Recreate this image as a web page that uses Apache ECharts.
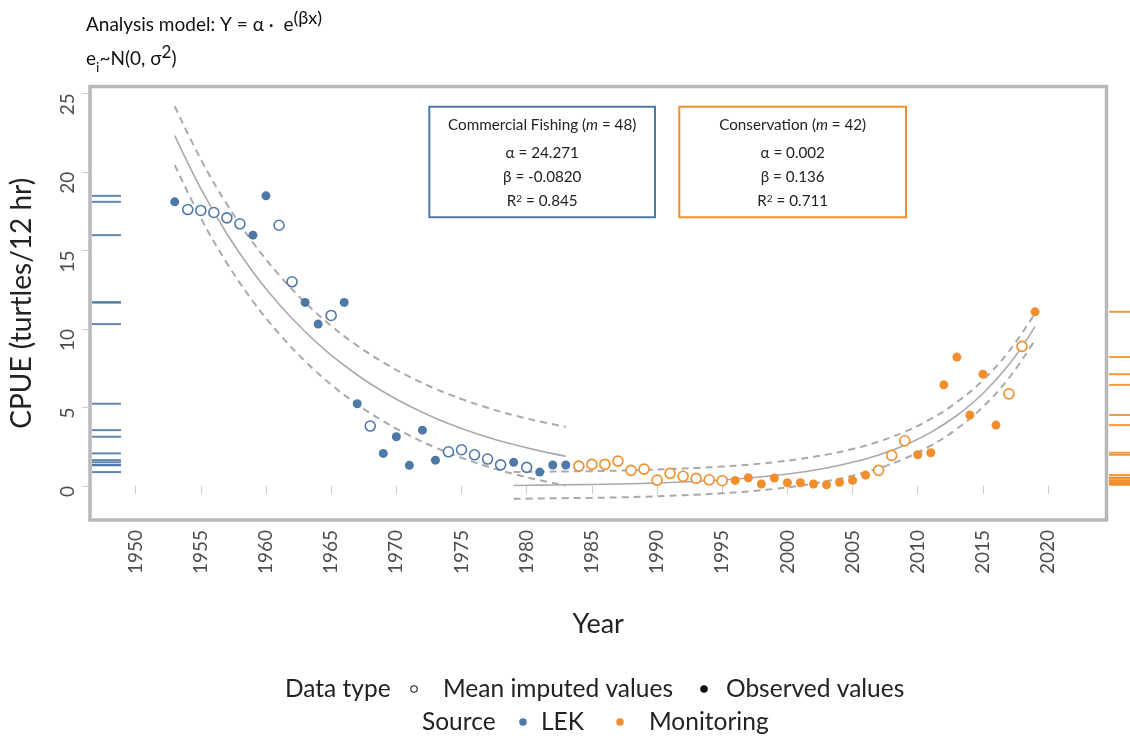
<!DOCTYPE html>
<html>
<head>
<meta charset="utf-8">
<script src="https://cdn.jsdelivr.net/npm/echarts@6/dist/echarts.min.js"></script>
<style>
  html, body { margin: 0; padding: 0; background: #fff; }
  #chart { width: 1130px; height: 736px; }
</style>
</head>
<body>
<div id="chart"></div>
<script>
// LEK (commercial fishing era)
var lekObsYears = [1953, 1959, 1960, 1963, 1964, 1966, 1967, 1969, 1970, 1971, 1972, 1973, 1979, 1981, 1982, 1983]
var lekObsCpue  = [18.09, 15.97, 18.47, 11.69, 10.31, 11.69, 5.24, 2.08, 3.14, 1.32, 3.56, 1.65, 1.51, 0.89, 1.34, 1.34]
var lekImpYears = [1954, 1955, 1956, 1957, 1958, 1961, 1962, 1965, 1968, 1974, 1975, 1976, 1977, 1978, 1980]
var lekImpCpue  = [17.60, 17.54, 17.41, 17.07, 16.69, 16.60, 13.00, 10.86, 3.82, 2.18, 2.31, 1.99, 1.72, 1.35, 1.19]

// Monitoring (conservation era)
var monObsYears = [1996, 1997, 1998, 1999, 2000, 2001, 2002, 2003, 2004, 2005, 2006, 2010, 2011, 2012, 2013, 2014, 2015, 2016, 2019]
var monObsCpue  = [0.36, 0.53, 0.13, 0.51, 0.21, 0.21, 0.13, 0.08, 0.24, 0.36, 0.70, 1.99, 2.12, 6.44, 8.21, 4.52, 7.12, 3.88, 11.09]
var monImpYears = [1984, 1985, 1986, 1987, 1988, 1989, 1990, 1991, 1992, 1993, 1994, 1995, 2007, 2008, 2009, 2017, 2018]
var monImpCpue  = [1.27, 1.38, 1.38, 1.59, 1.00, 1.08, 0.38, 0.81, 0.62, 0.49, 0.40, 0.34, 1.00, 1.95, 2.88, 5.87, 8.89]

// fitted curves (every 2 years)
var lekFitYears = [1953, 1955, 1957, 1959, 1961, 1963, 1965, 1967, 1969, 1971, 1973, 1975, 1977, 1979, 1981, 1983]
var lekFit      = [22.30, 18.93, 16.06, 13.63, 11.57, 9.82, 8.33, 7.07, 6.00, 5.09, 4.32, 3.67, 3.11, 2.64, 2.24, 1.90]
var lekUpper    = [24.17, 20.80, 17.93, 15.50, 13.44, 11.69, 10.20, 8.94, 7.87, 6.96, 6.19, 5.54, 4.98, 4.51, 4.11, 3.77]
var lekLower    = [20.43, 17.06, 14.19, 11.76, 9.70, 7.95, 6.46, 5.20, 4.13, 3.22, 2.45, 1.80, 1.24, 0.77, 0.37, 0.03]

var monFitYears = [1979, 1981, 1983, 1985, 1987, 1989, 1991, 1993, 1995, 1997, 1999, 2001, 2003, 2005, 2007, 2009, 2011, 2013, 2015, 2017, 2019]
var monFit      = [0.04, 0.06, 0.08, 0.10, 0.13, 0.17, 0.23, 0.30, 0.39, 0.51, 0.67, 0.88, 1.15, 1.51, 1.98, 2.60, 3.42, 4.49, 5.89, 7.73, 10.15]
var monUpper    = [0.89, 0.91, 0.93, 0.95, 0.98, 1.02, 1.08, 1.15, 1.24, 1.36, 1.52, 1.73, 2.00, 2.36, 2.83, 3.45, 4.27, 5.34, 6.74, 8.58, 11.00]
var monLower    = [-0.81, -0.79, -0.77, -0.75, -0.72, -0.68, -0.62, -0.55, -0.46, -0.34, -0.18, 0.03, 0.30, 0.66, 1.13, 1.75, 2.57, 3.64, 5.04, 6.88, 9.30]

var xTicks = [1950, 1955, 1960, 1965, 1970, 1975, 1980, 1985, 1990, 1995, 2000, 2005, 2010, 2015, 2020]
var yTicks = [0, 5, 10, 15, 20, 25]

var BLUE = '#4e79a7', ORANGE = '#f28e2b', GREY = '#aaaaaa'
var FONT = 'Lato'

function pairs (xs, ys) {
    return xs.map(function (x, i) { return [x, ys[i]] })
}

function fitLine (xs, ys, dashed) {
    return {
        type: 'line', data: pairs(xs, ys), symbol: 'none', silent: true,
        smooth: 0.4,
        lineStyle: { color: GREY, width: dashed ? 2 : 1.6, type: dashed ? [7, 5] : 'solid' },
        z: 2
    }
}

function points (xs, ys, color, open) {
    return {
        type: 'scatter', data: pairs(xs, ys), symbol: 'circle',
        symbolSize: open ? 10 : 9,
        itemStyle: open ? { color: '#fff', borderColor: color, borderWidth: 1.6, opacity: 1 } : { color: color, opacity: 1 },
        z: 5
    }
}

function rug (xs, ys, color, side) {
    return {
        type: 'custom', data: pairs(xs, ys), silent: true, z: 3,
        encode: { x: 0, y: 1 },
        renderItem: function (params, api) {
            var cs = params.coordSys
            var y = api.coord([api.value(0), api.value(1)])[1]
            var x1 = side === 'left' ? cs.x + 2 : cs.x + cs.width + 2.5
            var x2 = side === 'left' ? cs.x + 31 : 1130
            return {
                type: 'line',
                shape: { x1: x1, y1: y, x2: x2, y2: y },
                style: { stroke: color, lineWidth: 2, opacity: 0.9 }
            }
        }
    }
}

var BOX_FS = 15.2
var boxRich = {
    n: { fontFamily: FONT, fontSize: BOX_FS, fill: '#222' },
    i: { fontFamily: FONT, fontSize: BOX_FS, fill: '#222', fontStyle: 'italic' },
    p: { fontFamily: FONT, fontSize: 10, fill: '#222', verticalAlign: 'top', lineHeight: 13 }
}

function boxText (cx, cy, text) {
    return {
        type: 'text', x: cx, y: cy, z: 11,
        style: {
            text: text, align: 'center', verticalAlign: 'middle',
            fontFamily: FONT, fontSize: BOX_FS, fill: '#222', rich: boxRich
        }
    }
}

function legText (x, y, t) {
    return { type: 'text', x: x, y: y, style: { text: t, fontFamily: FONT, fontSize: 24.5, fill: '#222', verticalAlign: 'middle' } }
}
function legDot (x, y, color, open) {
    return {
        type: 'circle', shape: { cx: x, cy: y, r: open ? 3.2 : 3.8 },
        style: open ? { fill: '#fff', stroke: '#222', lineWidth: 1.1 } : { fill: color }
    }
}

var chart = echarts.init(document.getElementById('chart'))
var option = {
    animation: false,
    backgroundColor: '#fff',
    grid: {
        left: 86.5, top: 86.5, right: 23.5, bottom: 216,
        show: true, borderColor: '#b8b8b8', borderWidth: 3.5, backgroundColor: '#fff'
    },
    xAxis: {
        type: 'value', min: 1946.5, max: 2024.48,
        name: 'Year', nameLocation: 'middle', nameGap: 91,
        nameTextStyle: { fontFamily: FONT, fontSize: 27, color: '#222' },
        axisLine: { show: false },
        splitLine: { show: false },
        axisTick: { show: true, length: 8, lineStyle: { color: '#cccccc', width: 1 }, customValues: xTicks },
        axisLabel: {
            customValues: xTicks, rotate: 90, margin: 10,
            formatter: function (v) { return String(v) },
            fontFamily: FONT, fontSize: 19, color: '#4d4d4d', padding: [28, 0, 0, 0]
        }
    },
    yAxis: {
        type: 'value', min: -2.16, max: 25.43,
        name: 'CPUE (turtles/12 hr)', nameLocation: 'middle', nameGap: 54, nameRotate: 90,
        nameTextStyle: { fontFamily: FONT, fontSize: 28, color: '#222' },
        axisLine: { show: false },
        splitLine: { show: false },
        axisTick: { show: true, length: 8, lineStyle: { color: '#cccccc', width: 1 }, customValues: yTicks },
        axisLabel: {
            customValues: yTicks, rotate: 90, margin: 13, align: 'right',
            fontFamily: FONT, fontSize: 19, color: '#4d4d4d'
        }
    },
    series: [
        fitLine(lekFitYears, lekUpper, true),
        fitLine(lekFitYears, lekFit, false),
        fitLine(lekFitYears, lekLower, true),
        fitLine(monFitYears, monUpper, true),
        fitLine(monFitYears, monFit, false),
        fitLine(monFitYears, monLower, true),
        rug(lekObsYears, lekObsCpue, BLUE, 'left'),
        rug(monObsYears, monObsCpue, ORANGE, 'right'),
        points(lekImpYears, lekImpCpue, BLUE, true),
        points(lekObsYears, lekObsCpue, BLUE, false),
        points(monImpYears, monImpCpue, ORANGE, true),
        points(monObsYears, monObsCpue, ORANGE, false)
    ],
    graphic: [
        {
            type: 'text', x: 86, y: 9,
            style: {
                text: '{a|Analysis model: Y = α ·  e}{c|(βx)}',
                rich: {
                    a: { fontFamily: FONT, fontSize: 19, fill: '#111', lineHeight: 32 },
                    c: { fontFamily: FONT, fontSize: 18, fill: '#111', verticalAlign: 'top', lineHeight: 18 }
                }
            }
        },
        {
            type: 'text', x: 86, y: 44,
            style: {
                text: '{a|e}{s|i}{a|~N(0, σ}{c|2}{a|)}',
                rich: {
                    a: { fontFamily: FONT, fontSize: 19, fill: '#111', lineHeight: 30 },
                    s: { fontFamily: FONT, fontSize: 14, fill: '#111', verticalAlign: 'bottom', lineHeight: 25 },
                    c: { fontFamily: FONT, fontSize: 17, fill: '#111', verticalAlign: 'top', lineHeight: 17 }
                }
            }
        },
        {
            type: 'rect', shape: { x: 429.3, y: 106.7, width: 225.7, height: 110.6 },
            style: { fill: '#fff', stroke: BLUE, lineWidth: 2 }, z: 10
        },
        {
            type: 'rect', shape: { x: 679.3, y: 106.7, width: 226.7, height: 110.6 },
            style: { fill: '#fff', stroke: ORANGE, lineWidth: 2 }, z: 10
        },
        boxText(542.2, 125.5, '{n|Commercial Fishing (}{i|m}{n| = 48)}'),
        boxText(542.2, 153.5, '{n|α = 24.271}'),
        boxText(542.2, 177.5, '{n|β = -0.0820}'),
        boxText(542.2, 201.5, '{n|R}{p|2}{n| = 0.845}'),
        boxText(792.7, 125.5, '{n|Conservation (}{i|m}{n| = 42)}'),
        boxText(792.7, 153.5, '{n|α = 0.002}'),
        boxText(792.7, 177.5, '{n|β = 0.136}'),
        boxText(792.7, 201.5, '{n|R}{p|2}{n| = 0.711}'),
        legText(285, 689, 'Data type'),
        legDot(414, 689, '#222', true),
        legText(443, 689, 'Mean imputed values'),
        legDot(704, 689, '#111', false),
        legText(726, 689, 'Observed values'),
        legText(422, 722, 'Source'),
        legDot(523, 722, BLUE, false),
        legText(541, 722, 'LEK'),
        legDot(620, 722, ORANGE, false),
        legText(649, 722, 'Monitoring')
    ]
}
chart.setOption(option)
</script>
</body>
</html>
